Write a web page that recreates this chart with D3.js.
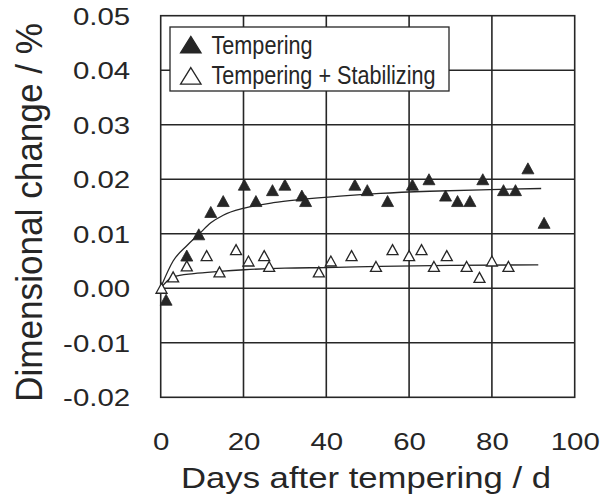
<!DOCTYPE html>
<html><head><meta charset="utf-8">
<script src="https://cdn.jsdelivr.net/npm/d3@7"></script>
<style>body{margin:0;background:#fff}</style>
</head><body>
<svg id="c" width="611" height="500"></svg>
<script>
// ---- data ----
const xTickValues = [0, 20, 40, 60, 80, 100];
const xTickLabels = ["0", "20", "40", "60", "80", "100"];
const yTickValues = [-0.02, -0.01, 0.00, 0.01, 0.02, 0.03, 0.04, 0.05];
const yTickLabels = ["-0.02", "-0.01", "0.00", "0.01", "0.02", "0.03", "0.04", "0.05"];

const seriesNames = ["Tempering", "Tempering + Stabilizing"];

const temperingDays   = [1.3, 6.3, 9.2, 12.1, 15.1, 20.2, 23.0, 27.0, 30.0, 34.1, 35.0, 46.9, 49.9, 54.8, 60.8, 64.8, 68.8, 71.7, 74.7, 77.8, 82.8, 85.7, 88.7, 92.6];
const temperingValues = [-0.0021, 0.0060, 0.0099, 0.0140, 0.0160, 0.0190, 0.0160, 0.0180, 0.0190, 0.0170, 0.0160, 0.0190, 0.0180, 0.0160, 0.0190, 0.0200, 0.0170, 0.0160, 0.0160, 0.0200, 0.0180, 0.0180, 0.0220, 0.0120];

const stabilizedDays   = [0.2, 3.0, 6.3, 11.1, 14.2, 18.2, 21.2, 25.0, 26.2, 38.2, 41.1, 46.1, 52.0, 56.0, 60.0, 63.0, 66.0, 69.1, 73.9, 77.0, 80.0, 84.0];
const stabilizedValues = [0.0000, 0.0021, 0.0041, 0.0060, 0.0030, 0.0071, 0.0050, 0.0060, 0.0040, 0.0030, 0.0050, 0.0060, 0.0040, 0.0071, 0.0060, 0.0071, 0.0040, 0.0060, 0.0040, 0.0020, 0.0050, 0.0040];

// fitted trend curves
const temperingFitDays   = [0.2, 3.0, 6.3, 9.2, 12.1, 15.1, 20.2, 27.2, 34.1, 43.3, 53.0, 65.0, 79.5, 91.9];
const temperingFitValues = [0.0005, 0.0050, 0.0078, 0.0099, 0.0120, 0.0134, 0.0147, 0.0157, 0.0163, 0.0169, 0.0174, 0.0178, 0.0181, 0.0183];
const stabilizedFitDays   = [0.2, 1.5, 3.0, 8.0, 14.2, 20.2, 30.0, 40.0, 53.0, 70.0, 91.2];
const stabilizedFitValues = [0.0002, 0.0013, 0.0021, 0.0027, 0.0031, 0.0034, 0.0037, 0.0038, 0.0040, 0.0042, 0.0043];

// ---- chart ----
const svg = d3.select("#c");
const ink = "#262626";
const font = "'Liberation Sans', Arial, Helvetica, sans-serif";

const x = d3.scaleLinear().domain([0, 100]).range([160.7, 574.7]);
const y = d3.scaleLinear().domain([-0.02, 0.05]).range([397.3, 15.7]);

// grid
svg.append("g").selectAll("line.v").data(xTickValues.slice(1, -1)).join("line")
  .attr("x1", d => x(d)).attr("x2", d => x(d))
  .attr("y1", y(0.05)).attr("y2", y(-0.02))
  .attr("stroke", ink).attr("stroke-width", 1.6);
svg.append("g").selectAll("line.h").data(yTickValues.slice(1, -1)).join("line")
  .attr("y1", d => y(d)).attr("y2", d => y(d))
  .attr("x1", x(0)).attr("x2", x(100))
  .attr("stroke", ink).attr("stroke-width", 1.6);

// frame
svg.append("rect").attr("x", x(0)).attr("y", y(0.05))
  .attr("width", x(100) - x(0)).attr("height", y(-0.02) - y(0.05))
  .attr("fill", "none").attr("stroke", ink).attr("stroke-width", 1.6);

// axes (labels only)
const xAxis = d3.axisBottom(x).tickValues(xTickValues)
  .tickFormat((d, i) => xTickLabels[i]).tickSize(0).tickPadding(0);
const gx = svg.append("g").attr("transform", `translate(0,${y(-0.02)})`).call(xAxis);
gx.select(".domain").remove();
gx.selectAll("text").attr("y", 0).attr("dy", 0)
  .attr("transform", "translate(0,52.7) scale(1.28,1)")
  .style("font-family", font).style("font-size", "23px").attr("fill", ink);

const yAxis = d3.axisLeft(y).tickValues(yTickValues)
  .tickFormat((d, i) => yTickLabels[i]).tickSize(0).tickPadding(0);
const gy = svg.append("g").attr("transform", `translate(${x(0)},0)`).call(yAxis);
gy.select(".domain").remove();
gy.selectAll("text").attr("x", 0).attr("dy", 0)
  .attr("transform", "translate(-30.5,8.3) scale(1.28,1)")
  .style("font-family", font).style("font-size", "23px").attr("fill", ink);

// axis titles
svg.append("text").text("Days after tempering / d")
  .attr("x", 366).attr("y", 488.3).attr("text-anchor", "middle")
  .attr("textLength", 370).attr("lengthAdjust", "spacingAndGlyphs")
  .style("font-family", font).style("font-size", "30px").attr("fill", ink);
svg.append("text").text("Dimensional change / %")
  .attr("transform", "translate(41.7,212.5) rotate(-90)").attr("text-anchor", "middle")
  .attr("textLength", 379).attr("lengthAdjust", "spacingAndGlyphs")
  .style("font-family", font).style("font-size", "37px").attr("fill", ink);

// fit curves
const line = d3.line().x(d => x(d[0])).y(d => y(d[1])).curve(d3.curveMonotoneX);
svg.append("path").datum(d3.zip(temperingFitDays, temperingFitValues))
  .attr("d", line).attr("fill", "none").attr("stroke", ink).attr("stroke-width", 1.3);
svg.append("path").datum(d3.zip(stabilizedFitDays, stabilizedFitValues))
  .attr("d", line).attr("fill", "none").attr("stroke", ink).attr("stroke-width", 1.3);

// markers
function tri(w, h) {
  return `M0,${-h / 2}L${w / 2},${h / 2}L${-w / 2},${h / 2}Z`;
}
svg.append("g").selectAll("path").data(d3.zip(stabilizedDays, stabilizedValues)).join("path")
  .attr("d", tri(11, 10))
  .attr("transform", d => `translate(${x(d[0])},${y(d[1])})`)
  .attr("fill", "#fff").attr("stroke", ink).attr("stroke-width", 1.3);
svg.append("g").selectAll("path").data(d3.zip(temperingDays, temperingValues)).join("path")
  .attr("d", tri(12, 11))
  .attr("transform", d => `translate(${x(d[0])},${y(d[1])})`)
  .attr("fill", ink).attr("stroke", ink).attr("stroke-width", 0.8);

// legend
const lg = svg.append("g");
lg.append("rect").attr("x", 170).attr("y", 27).attr("width", 279).attr("height", 64)
  .attr("fill", "#fff").attr("stroke", ink).attr("stroke-width", 1.3);
const legendRows = [
  { name: seriesNames[0], fill: ink, cy: 44.7, base: 53.5, len: 101 },
  { name: seriesNames[1], fill: "#fff", cy: 75.8, base: 83.5, len: 224 }
];
legendRows.forEach(r => {
  lg.append("path").attr("d", tri(20.5, 16.5))
    .attr("transform", `translate(190.8,${r.cy})`)
    .attr("fill", r.fill).attr("stroke", ink).attr("stroke-width", 1.3);
  lg.append("text").text(r.name).attr("x", 211.5).attr("y", r.base)
    .attr("textLength", r.len).attr("lengthAdjust", "spacingAndGlyphs")
    .style("font-family", font).style("font-size", "25.5px").attr("fill", ink);
});
</script>
</body></html>
